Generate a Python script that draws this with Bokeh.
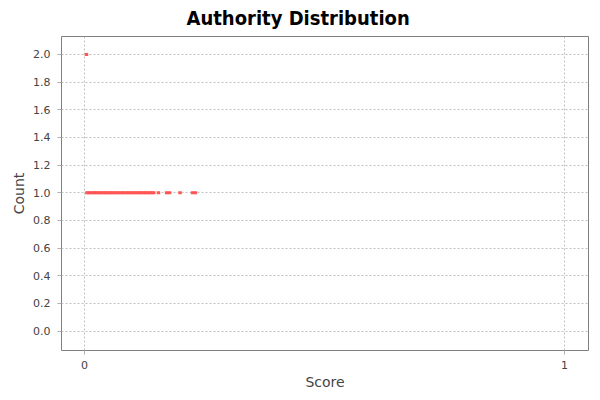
from bokeh.plotting import figure
from bokeh.models import Range1d, FixedTicker, PrintfTickFormatter, ColumnDataSource
from bokeh.embed import file_html
from bokeh.resources import INLINE

# authority score -> how many nodes have it
scores = [0.004,
          0.005, 0.009, 0.013, 0.018, 0.022, 0.026, 0.031, 0.035, 0.040, 0.044,
          0.048, 0.053, 0.057, 0.061, 0.066, 0.070, 0.075, 0.079, 0.083, 0.088,
          0.092, 0.096, 0.101, 0.105, 0.110, 0.114, 0.118, 0.123, 0.127, 0.131,
          0.136, 0.140, 0.144, 0.154, 0.171, 0.177, 0.199, 0.225, 0.231]
counts = [2,
          1, 1, 1, 1, 1, 1, 1, 1, 1, 1,
          1, 1, 1, 1, 1, 1, 1, 1, 1, 1,
          1, 1, 1, 1, 1, 1, 1, 1, 1, 1,
          1, 1, 1, 1, 1, 1, 1, 1, 1]

x_ticks = [0, 1]
y_ticks = [0.0, 0.2, 0.4, 0.6, 0.8, 1.0, 1.2, 1.4, 1.6, 1.8, 2.0]

src = ColumnDataSource(dict(score=scores, count=counts))

p = figure(width=592, height=392, output_backend="svg", toolbar_location=None,
           x_range=Range1d(-0.048, 1.05), y_range=Range1d(-0.14, 2.13),
           min_border_left=61, min_border_right=4, min_border_top=36, min_border_bottom=42,
           title="Authority Distribution")

# title is centred on the whole image, not on the plot area
p.title.align = "left"
p.title.offset = 125
p.title.text_font = "Liberation Sans Narrow, DejaVu Sans Condensed, sans-serif"
p.title.text_font_size = "20px"
p.title.text_font_style = "bold"
p.title.text_color = "#000000"
p.title.vertical_align = "top"
p.title.standoff = 9

p.background_fill_color = "white"
p.border_fill_color = "white"
p.outline_line_color = "#808080"
p.outline_line_width = 1

p.rect(x="score", y="count", width=3.5, height=3, width_units="screen", height_units="screen",
       fill_color="#FF5555", line_color=None, source=src)

for ax, ticks in ((p.xaxis, x_ticks), (p.yaxis, y_ticks)):
    ax.ticker = FixedTicker(ticks=ticks)
    ax.axis_line_color = None
    ax.major_tick_line_color = "#b0b0b0"
    ax.major_tick_out = 4
    ax.major_tick_in = 0
    ax.minor_tick_line_color = None
    ax.major_label_text_font = "DejaVu Sans"
    ax.major_label_text_font_size = "11px"
    ax.major_label_text_color = "#444444"
    ax.axis_label_text_font = "DejaVu Sans"
    ax.axis_label_text_font_size = "14px"
    ax.axis_label_text_font_style = "normal"
    ax.axis_label_text_color = "#444444"

p.xaxis.axis_label = "Score"
p.yaxis.axis_label = "Count"
p.yaxis.formatter = PrintfTickFormatter(format="%.1f")
p.yaxis.major_label_standoff = 7
p.yaxis.axis_label_standoff = 3
p.xaxis.major_label_standoff = 6
p.xaxis.axis_label_standoff = 2

p.xgrid.ticker = FixedTicker(ticks=x_ticks)
p.ygrid.ticker = FixedTicker(ticks=y_ticks)
for g in (p.xgrid, p.ygrid):
    g.grid_line_color = "#c0c0c0"
    g.grid_line_dash = "2 2"
    g.grid_line_width = 1

open("out.html", "w").write(file_html(p, INLINE))
